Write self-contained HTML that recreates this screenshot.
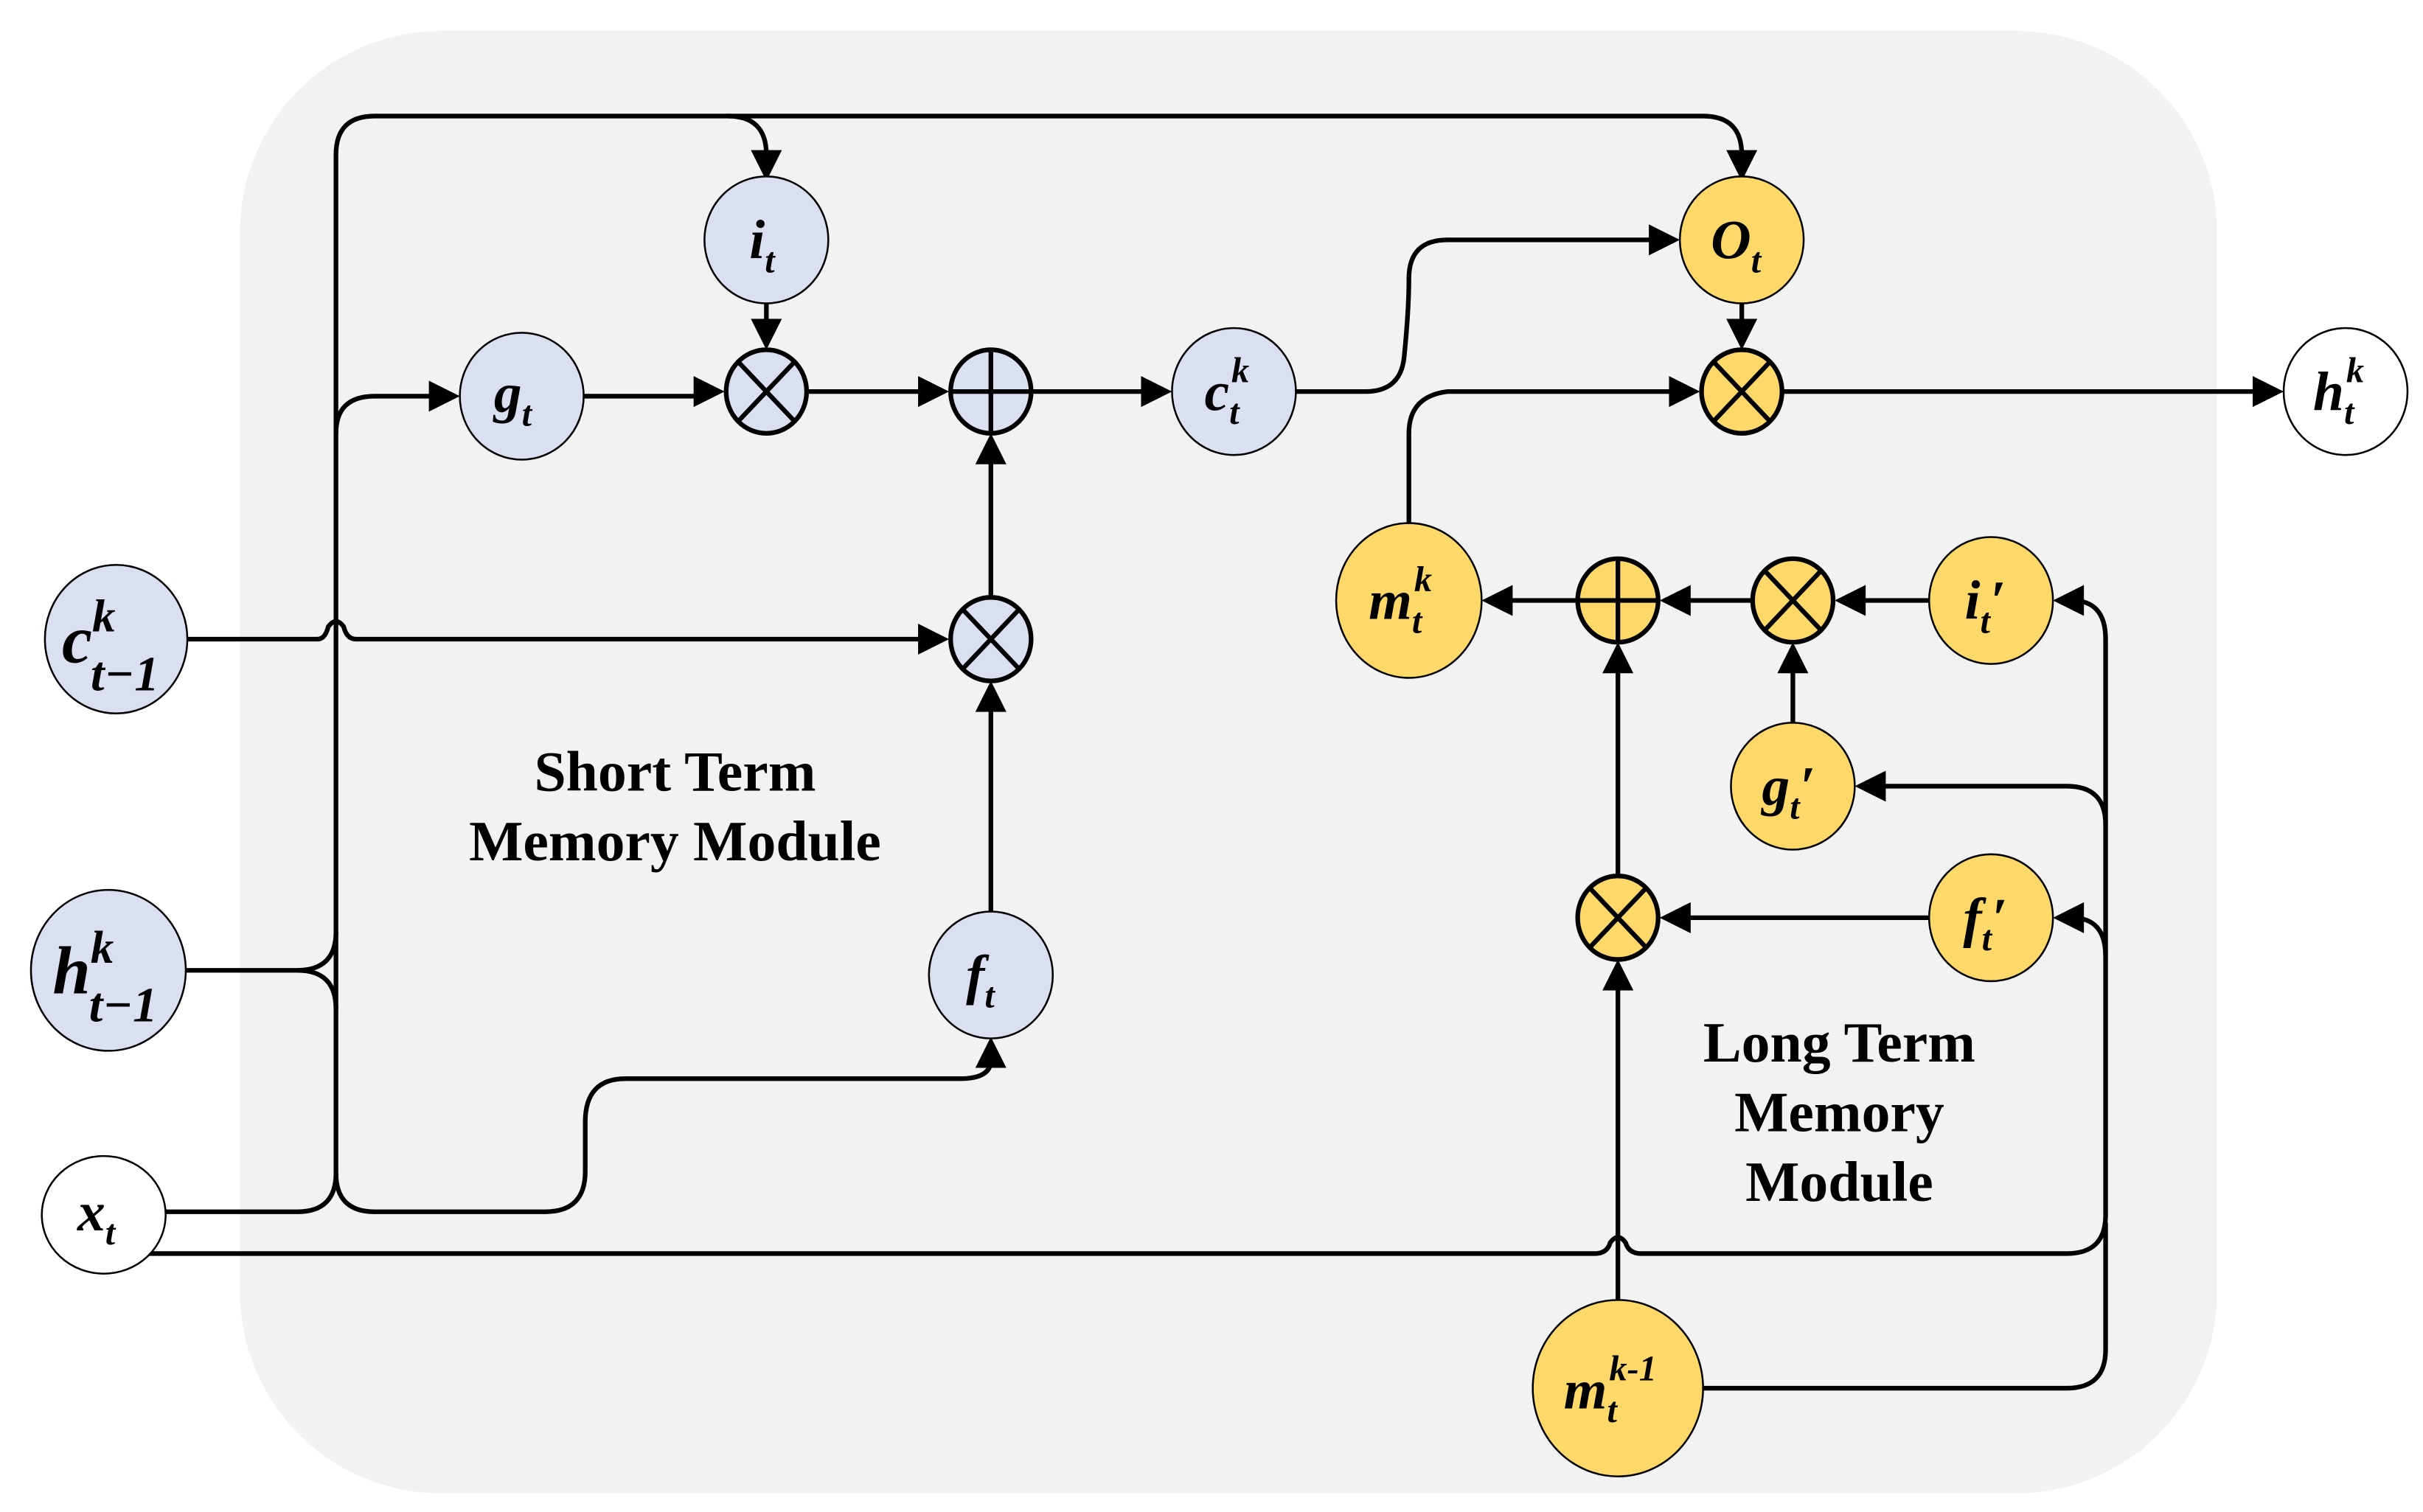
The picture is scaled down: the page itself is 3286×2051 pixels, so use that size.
<!DOCTYPE html>
<html><head><meta charset="utf-8"><style>
html,body{margin:0;padding:0;background:#fff;}
svg{display:block;}
text{font-family:"Liberation Serif",serif;font-weight:bold;fill:#000;}
.lbl{font-style:italic;font-size:36px;}
.sub{font-size:23px;}
.mod{font-size:37px;}
</style></head><body>
<svg width="3286" height="2051" viewBox="0 0 1565 977" preserveAspectRatio="none" xmlns="http://www.w3.org/2000/svg">
<rect x="155" y="20" width="1277" height="945" rx="130" ry="130" fill="#f2f2f2"/>
<g fill="none" stroke="#000" stroke-width="3">
<path d="M217,760 V100 Q217,75 242,75 H1100 Q1125,75 1125,100 V112"/>
<path d="M470,75 Q495,75 495,100 V112"/>
<path d="M217,280 Q217,256 242,256 H285"/>
<path d="M377,256 H456"/>
<path d="M495,195 V214"/>
<path d="M522,253 H601"/>
<path d="M667,253 H745"/>
<path d="M120,413 H205 Q210,413 212,405 Q217,398 222,405 Q224,413 230,413 H601"/>
<path d="M640,590 V452"/>
<path d="M640,386 V292"/>
<path d="M120,627 H192 Q217,627 217,602"/>
<path d="M192,627 Q217,627 217,652"/>
<path d="M107,783 H192 Q217,783 217,758"/>
<path d="M217,758 Q217,783 242,783 H352 Q378,783 378,757 V725 Q378,697 404,697 H620 Q640,697 640,685"/>
<path d="M837,253 H882 Q905,253 907,230 Q910,200 910,180 Q910,155 935,155 H1073"/>
<path d="M910,338 V280 Q910,256 935,253 H1086"/>
<path d="M1125,195 V214"/>
<path d="M1152,253 H1463"/>
<path d="M95,810 H1030 Q1038,810 1040,803 Q1045,796 1050,803 Q1052,810 1060,810 H1335 Q1360,810 1360,785 V413 Q1360,388 1338,388"/>
<path d="M1100,897 H1335 Q1360,897 1360,872 V790"/>
<path d="M1360,533 Q1360,508 1335,508 H1210"/>
<path d="M1360,618 Q1360,593 1338,593"/>
<path d="M1045,840 V632"/>
<path d="M1045,566 V427"/>
<path d="M1246,593 H1084"/>
<path d="M1246,388 H1197"/>
<path d="M1158,468 V427"/>
<path d="M1131,388 H1084"/>
<path d="M1018,388 H969"/>
</g>
<g fill="#000">
<polygon points="485,97 505,97 495,117"/>
<polygon points="1115,97 1135,97 1125,117"/>
<polygon points="277,246 277,266 297,256"/>
<polygon points="448,243 448,263 468,253"/>
<polygon points="485,206 505,206 495,226"/>
<polygon points="593,243 593,263 613,253"/>
<polygon points="737,243 737,263 757,253"/>
<polygon points="593,403 593,423 613,413"/>
<polygon points="630,460 650,460 640,440"/>
<polygon points="630,300 650,300 640,280"/>
<polygon points="630,690 650,690 640,670"/>
<polygon points="1065,145 1065,165 1085,155"/>
<polygon points="1115,206 1135,206 1125,226"/>
<polygon points="1078,243 1078,263 1098,253"/>
<polygon points="1455,243 1455,263 1475,253"/>
<polygon points="1346,378 1346,398 1326,388"/>
<polygon points="1218,498 1218,518 1198,508"/>
<polygon points="1346,583 1346,603 1326,593"/>
<polygon points="1035,640 1055,640 1045,620"/>
<polygon points="1035,435 1055,435 1045,415"/>
<polygon points="1092,583 1092,603 1072,593"/>
<polygon points="1205,378 1205,398 1185,388"/>
<polygon points="1148,435 1168,435 1158,415"/>
<polygon points="1092,378 1092,398 1072,388"/>
<polygon points="977,378 977,398 957,388"/>
</g>
<g stroke="#000" stroke-width="1.2">
<ellipse cx="75" cy="413" rx="46" ry="48" fill="#dae0f2"/>
<ellipse cx="70" cy="627" rx="50" ry="52" fill="#dae0f2"/>
<ellipse cx="67" cy="785" rx="40" ry="38" fill="#fff"/>
<ellipse cx="495" cy="155" rx="40" ry="41" fill="#dae0f2"/>
<ellipse cx="337" cy="256" rx="40" ry="41" fill="#dae0f2"/>
<ellipse cx="797" cy="253" rx="40" ry="41" fill="#dae0f2"/>
<ellipse cx="640" cy="630" rx="40" ry="41" fill="#dae0f2"/>
<ellipse cx="1125" cy="155" rx="40" ry="41" fill="#fed96a"/>
<ellipse cx="1515" cy="253" rx="40" ry="41" fill="#fff"/>
<ellipse cx="910" cy="388" rx="47" ry="50" fill="#fed96a"/>
<ellipse cx="1286" cy="388" rx="40" ry="41" fill="#fed96a"/>
<ellipse cx="1158" cy="508" rx="40" ry="41" fill="#fed96a"/>
<ellipse cx="1286" cy="593" rx="40" ry="41" fill="#fed96a"/>
<ellipse cx="1045" cy="897" rx="55" ry="57" fill="#fed96a"/>
</g>
<g stroke="#000" stroke-width="3">
<g fill="#dae0f2">
<ellipse cx="495" cy="253" rx="26" ry="27"/>
<ellipse cx="640" cy="253" rx="26" ry="27"/>
<ellipse cx="640" cy="413" rx="26" ry="27"/>
</g>
<g fill="#fed96a">
<ellipse cx="1125" cy="253" rx="26" ry="27"/>
<ellipse cx="1045" cy="388" rx="26" ry="27"/>
<ellipse cx="1158" cy="388" rx="26" ry="27"/>
<ellipse cx="1045" cy="593" rx="26" ry="27"/>
</g>
<path d="M477,234 L513,272 M513,234 L477,272 M640,226 V280 M614,253 H666 M622,394 L658,432 M658,394 L622,432 M1107,234 L1143,272 M1143,234 L1107,272 M1045,361 V415 M1019,388 H1071 M1140,369 L1176,407 M1176,369 L1140,407 M1027,574 L1063,612 M1063,574 L1027,612"/>
</g>
<g class="lbl">
<text x="40" y="428" font-size="44">c<tspan font-size="30" dy="-20">k</tspan><tspan font-size="32" dx="-16" dy="38">t−1</tspan></text>
<text x="34" y="642" font-size="44">h<tspan font-size="30" dy="-20">k</tspan><tspan font-size="32" dx="-16" dy="38">t−1</tspan></text>
<text x="50" y="795">x<tspan class="sub" dy="9">t</tspan></text>
<text x="484" y="167">i<tspan class="sub" dy="9">t</tspan></text>
<text x="319" y="266">g<tspan class="sub" dy="9">t</tspan></text>
<text x="778" y="265">c<tspan class="sub" dy="9">t</tspan><tspan class="sub" dx="-5" dy="-27">k</tspan></text>
<text x="624" y="642">f<tspan class="sub" dy="9">t</tspan></text>
<text x="1105" y="167">O<tspan class="sub" dy="9">t</tspan></text>
<text x="1494" y="265">h<tspan class="sub" dy="9">t</tspan><tspan class="sub" dx="-5" dy="-27">k</tspan></text>
<text x="884" y="400">m<tspan class="sub" dy="9">t</tspan><tspan class="sub" dx="-5" dy="-27">k</tspan></text>
<text x="1269" y="400">i<tspan class="sub" dy="9">t</tspan><tspan dy="-9">′</tspan></text>
<text x="1138" y="520">g<tspan class="sub" dy="9">t</tspan><tspan dy="-9">′</tspan></text>
<text x="1268" y="605">f<tspan class="sub" dy="9">t</tspan><tspan dy="-9">′</tspan></text>
<text x="1010" y="910">m<tspan class="sub" dy="9">t</tspan><tspan class="sub" dx="-5" dy="-27">k-1</tspan></text>
</g>
<g class="mod" text-anchor="middle">
<text x="436" y="511">Short Term</text>
<text x="436" y="556">Memory Module</text>
<text x="1188" y="686">Long Term</text>
<text x="1188" y="731">Memory</text>
<text x="1188" y="776">Module</text>
</g>
</svg>
</body></html>
